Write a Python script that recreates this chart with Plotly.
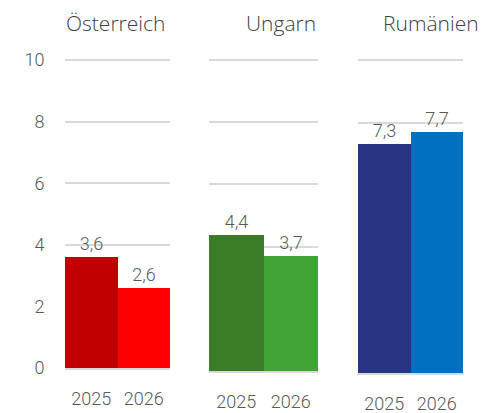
import plotly.graph_objects as go

countries = ["Österreich", "Ungarn", "Rumänien"]
years = ["2025", "2026"]
values_at = [3.6, 2.6]
values_hu = [4.4, 3.7]
values_ro = [7.3, 7.7]
colors_at = ["#C00000", "#FF0000"]
colors_hu = ["#3B7D27", "#40A535"]
colors_ro = ["#283583", "#0070C0"]
y_ticks = [0, 2, 4, 6, 8, 10]

W, H = 497, 413
OFF = 8  # page body margin
ML, MR, MT, MB = 42, 15, 2, 10
PW, PH = W - ML - MR, H - MT - MB

def fx(px):
    return (px - OFF - ML) / PW

def fy(py):
    return (H - MB - (py - OFF)) / PH

FONT = "Roboto"
TFONT = "Open Sans"
GRAY = "#595959"
FS = 18
YMAX = 10.4

fig = go.Figure()
series = [(values_at, colors_at), (values_hu, colors_hu), (values_ro, colors_ro)]
for i, (vals, cols) in enumerate(series):
    sfx = "" if i == 0 else str(i + 1)
    fig.add_trace(go.Bar(
        x=years, y=vals, marker=dict(color=cols, line=dict(width=0)),
        texttemplate="%{y:.1f}", textposition="outside", cliponaxis=False,
        textfont=dict(family=FONT, size=FS, color=GRAY, weight=300),
        xaxis="x" + sfx, yaxis="y" + sfx, showlegend=False,
    ))

x_px = [(65, 170), (209, 318), (358, 463)]
base_px = [368, 371, 373]
ten_px = 60
title_px = [115, 281, 431]

layout = dict(
    width=W, height=H, margin=dict(l=ML, r=MR, t=MT, b=MB, autoexpand=False),
    paper_bgcolor="white", plot_bgcolor="white",
    separators=", ", bargap=0, showlegend=False,
    font=dict(family=FONT, color=GRAY, size=FS, weight=300),
    annotations=[],
)
for i in range(3):
    sfx = "" if i == 0 else str(i + 1)
    top = base_px[i] - (base_px[i] - ten_px) * YMAX / 10
    layout["xaxis" + sfx] = dict(
        domain=[fx(x_px[i][0]), fx(x_px[i][1])], anchor="y" + sfx,
        type="category", showgrid=False, showline=False, zeroline=False,
        ticks="outside", ticklen=14, tickcolor="rgba(0,0,0,0)",
        tickfont=dict(family=FONT, size=FS, color=GRAY, weight=300),
        fixedrange=True, automargin=False,
    )
    layout["yaxis" + sfx] = dict(
        domain=[fy(base_px[i]), fy(top)], anchor="x" + sfx,
        range=[0, YMAX], tickvals=y_ticks, showgrid=True, gridcolor="#D9D9D9",
        gridwidth=1.5, zeroline=True, zerolinecolor="#D9D9D9", zerolinewidth=2.5,
        showline=False, showticklabels=(i == 0),
        ticks="outside", ticklen=16, tickcolor="rgba(0,0,0,0)",
        tickfont=dict(family=FONT, size=FS, color=GRAY, weight=300),
        fixedrange=True, automargin=False,
    )
    layout["annotations"].append(dict(
        text=countries[i], x=fx(title_px[i]), y=1.0 + 2 / PH, xref="paper", yref="paper",
        xanchor="center", yanchor="top", showarrow=False, borderpad=0,
        font=dict(family=TFONT, size=21, color="#404040", weight=300),
    ))

fig.update_layout(**layout)
fig.write_html("out.html")
